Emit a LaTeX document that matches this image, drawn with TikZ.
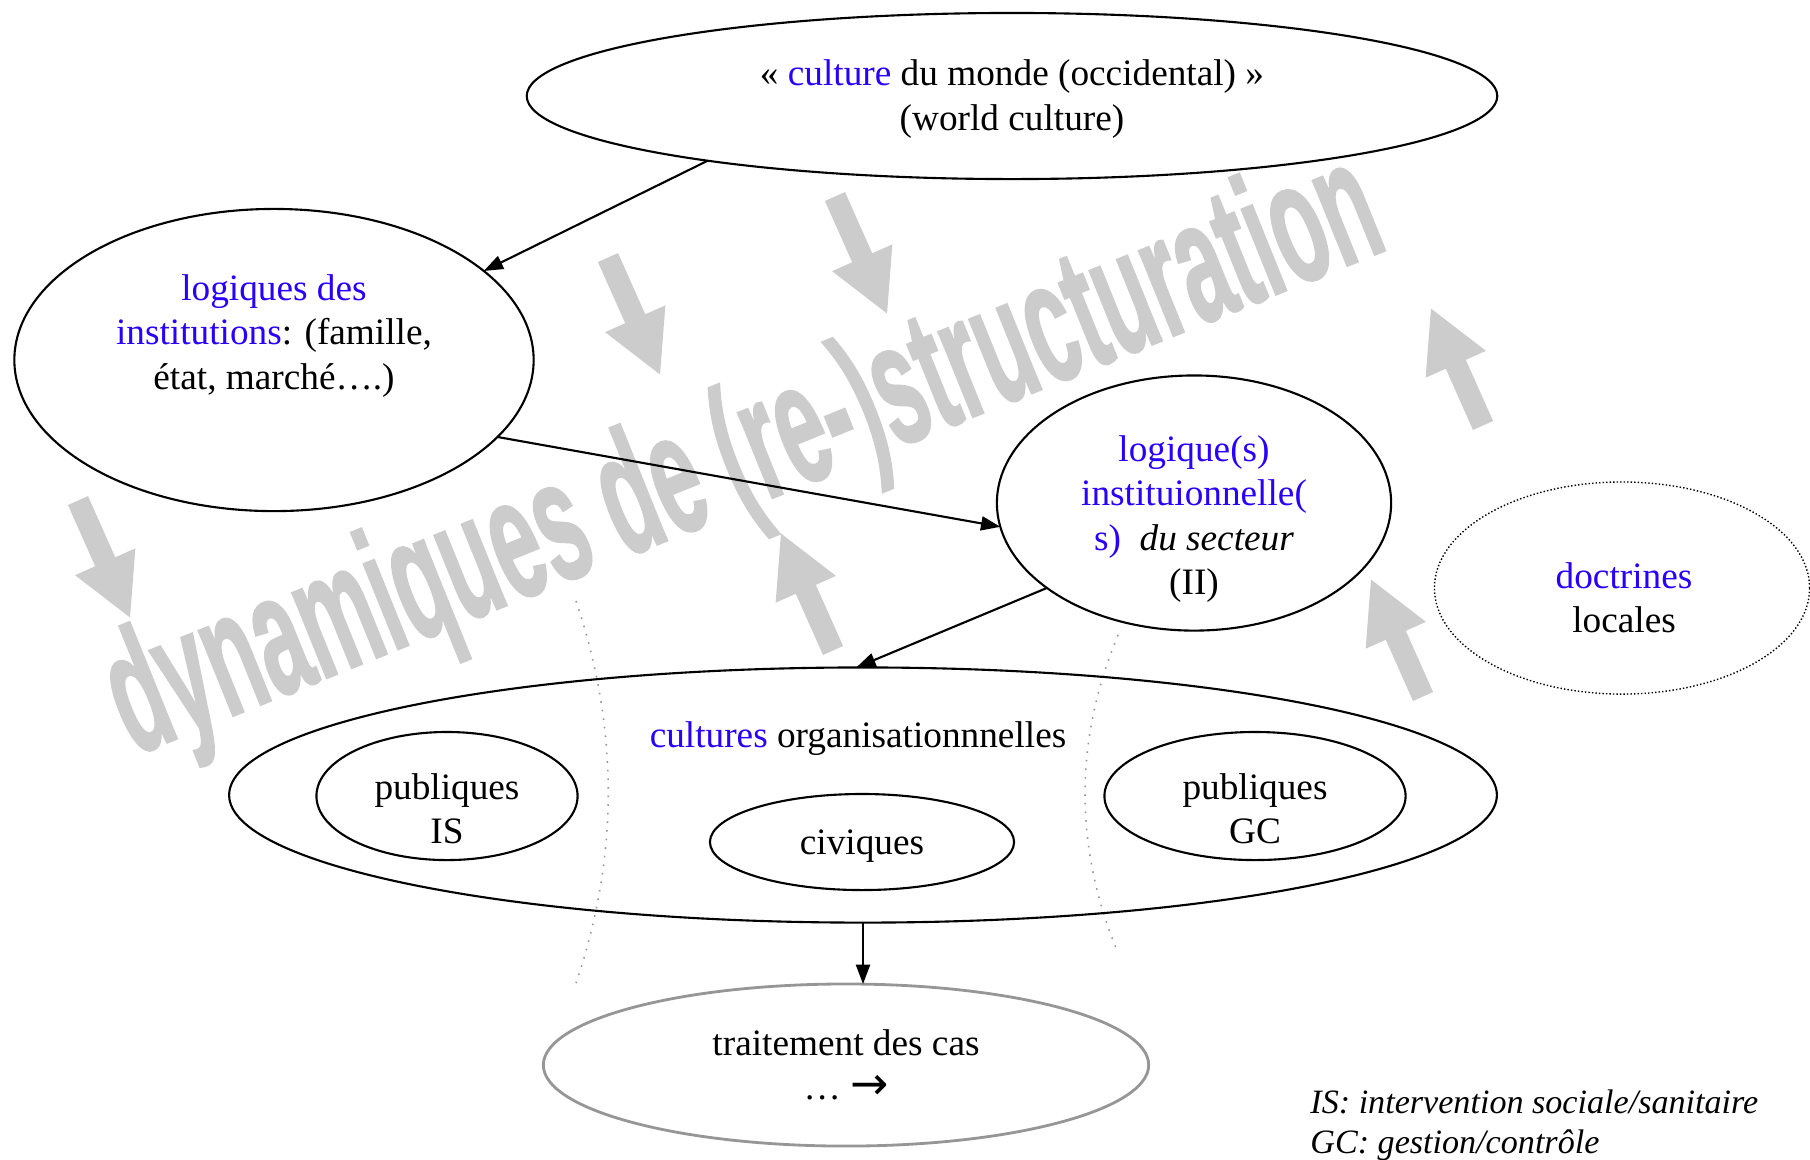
\documentclass[tikz,border=0pt]{standalone}
\usepackage{fontspec}
\setmainfont{Liberation Serif}
\newfontfamily\wmfont{Liberation Sans}[BoldFeatures={FakeBold=1.5}]
\newfontfamily\symfont{DejaVu Sans}
\usetikzlibrary{shapes.geometric,arrows.meta}
\definecolor{bleu}{RGB}{40,0,255}
\definecolor{filigrane}{RGB}{204,204,204}
\definecolor{grisbord}{RGB}{150,150,150}

\begin{document}
\begin{tikzpicture}[x=0.01cm,y=-0.01cm,
    oval/.style={ellipse,draw,line width=0.6pt,inner sep=0pt,outer sep=0pt},
    txt/.style={align=center,font=\fontsize{10.6}{12.6}\selectfont},
    lien/.style={-{Triangle[length=5.5pt,width=4pt]},line width=0.6pt}]
    \useasboundingbox (0,0) rectangle (1810,1159);

    % Filigrane
    \node[rotate=22,anchor=base,text=filigrane,inner sep=0pt] (wm) at (762,502)
      {\scalebox{1}[2]{\wmfont\bfseries\fontsize{24.6}{30}\selectfont dynamiques de (re-)structuration}};
    % Fleches grises
    \foreach \x/\y/\a in {104/559/24, 634/316/24, 861/255/24, 807/592/204, 1457/367/204, 1397/638/204}
      \fill[filigrane,shift={(\x,\y)},rotate=\a] (-11,-64) -- (11,-64) -- (11,3) -- (33,3)
        -- (0,64) -- (-33,3) -- (-11,3) -- cycle;

    % Separations pointillees
    \draw[grisbord,dotted,line width=0.45pt] (576,601) .. controls (619,729) and (619,856) .. (576,983);
    \draw[grisbord,dotted,line width=0.45pt] (1118,635) .. controls (1074,741) and (1074,847) .. (1118,953);

    % Culture du monde
    \node[oval,minimum width=9.70cm,minimum height=1.66cm] (monde) at (1012,96) {};
    \node[txt] (tmonde) at (1012,99) {« \textcolor{bleu}{culture} du monde (occidental) »\\(world culture)};

    % Logiques des institutions
    \node[oval,minimum width=5.19cm,minimum height=3.02cm] (inst) at (274,360) {};
    \node[txt] (tinst) at (274,336) {\textcolor{bleu}{logiques des}\\\textcolor{bleu}{institutions}: (famille,\\état, marché….)};

    % Logique(s) du secteur
    \node[oval,minimum width=3.94cm,minimum height=2.55cm] (secteur) at (1194,503) {};
    \node[txt] (tsecteur) at (1194,519) {\textcolor{bleu}{logique(s)}\\\textcolor{bleu}{instituionnelle(}\\\textcolor{bleu}{s)}~ \textit{du secteur}\\(II)};

    % Doctrines locales
    \node[ellipse,draw,line width=0.4pt,dash pattern=on 0.4pt off 0.6pt,inner sep=0pt,
      minimum width=3.75cm,minimum height=2.12cm] (doctr) at (1622,588) {};
    \node[txt] (tdoctr) at (1624,598) {\textcolor{bleu}{doctrines}\\locales};

    % Cultures organisationnelles
    \node[oval,minimum width=12.67cm,minimum height=2.55cm] (orga) at (863,795) {};
    \node[txt] (torga) at (858,739) {\textcolor{bleu}{cultures} organisationnnelles};
    \node[oval,minimum width=2.61cm,minimum height=1.28cm] (pis) at (447,796) {};
    \node[txt] (tpis) at (447,809) {publiques\\IS};
    \node[oval,minimum width=3.04cm,minimum height=0.96cm] (civ) at (862,842) {};
    \node[txt] (tciv) at (862,846) {civiques};
    \node[oval,minimum width=3.01cm,minimum height=1.28cm] (pgc) at (1255,796) {};
    \node[txt] (tpgc) at (1255,809) {publiques\\GC};

    % Traitement des cas
    \node[ellipse,draw=grisbord,line width=0.8pt,inner sep=0pt,outer sep=0pt,
      minimum width=6.05cm,minimum height=1.62cm] (cas) at (846,1065) {};
    \node[txt] (tcas) at (846,1065) {traitement des cas\\… {\symfont\fontsize{13}{12.6}\selectfont →}};

    % Liens
    \draw[lien] (monde.192) -- (inst.23);
    \draw[lien] (inst.-19) -- (secteur.187);
    \draw[lien] (secteur.210) -- (orga.93);
    \draw[lien] (orga.south) -- (cas.north -| orga.south);

    % Legende
    \node[txt,align=left,anchor=west,font=\fontsize{9.7}{11.5}\selectfont\itshape] (legende) at (1298,1125)
      {IS: intervention sociale/sanitaire\\GC: gestion/contrôle};
\end{tikzpicture}
\end{document}
